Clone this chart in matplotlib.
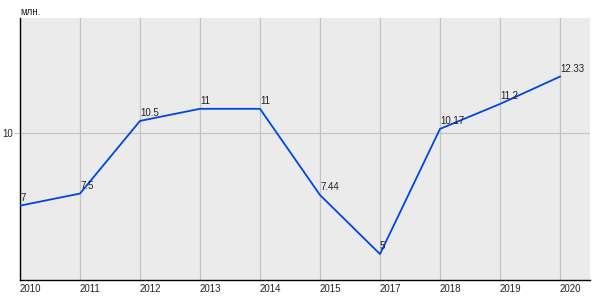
import matplotlib
matplotlib.use("Agg")
import matplotlib.pyplot as plt

plt.rcParams["font.family"] = ["Liberation Sans", "DejaVu Sans"]

years = ["2010", "2011", "2012", "2013", "2014", "2015", "2017", "2018", "2019", "2020"]
values = [7, 7.5, 10.5, 11, 11, 7.44, 5, 10.17, 11.2, 12.33]
value_labels = ["7", "7.5", "10.5", "11", "11", "7.44", "5", "10.17", "11.2", "12.33"]

fig = plt.figure(figsize=(6, 3), dpi=100)
ax = fig.add_axes([20 / 600, 20 / 300, 570 / 600, 262 / 300])
ax.set_facecolor("#ebebeb")

x = list(range(len(years)))
ax.plot(x, values, color="#0047e0", linewidth=1.3, zorder=3)

for xi, v, lab in zip(x, values, value_labels):
    ax.annotate(lab, (xi, v), xytext=(0, 2), textcoords="offset points",
                ha="left", va="bottom", fontsize=7, color="#222222", zorder=4)

ax.set_xlim(0, len(years) - 0.5)
ax.set_ylim(3.93, 14.75)
ax.set_xticks(x, years)
ax.set_yticks([10])
ax.grid(True, color="#c4c4c4", linewidth=0.9)
ax.set_axisbelow(True)

for s in ("top", "right"):
    ax.spines[s].set_visible(False)
for s in ("left", "bottom"):
    ax.spines[s].set_color("black")
    ax.spines[s].set_linewidth(1.0)

ax.tick_params(axis="both", labelsize=7, length=0, pad=3, colors="#222222")
ax.tick_params(axis="y", length=4, color="#c4c4c4", pad=1)
for lbl in ax.get_xticklabels():
    lbl.set_horizontalalignment("left")

fig.text(20 / 600, 1 - 12 / 300, "млн.", fontsize=7, ha="left", va="center", color="#222222")

fig.savefig("out.png", dpi=100)
